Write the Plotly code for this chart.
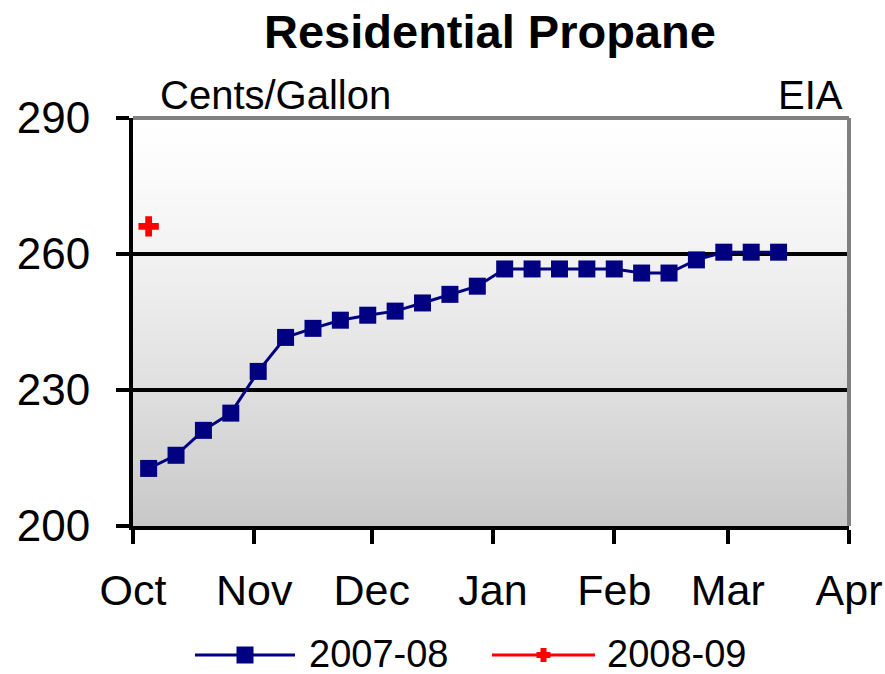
import plotly.graph_objects as go

# ---- data ----
dates_0708 = ["2007-10-05", "2007-10-12", "2007-10-19", "2007-10-26",
              "2007-11-02", "2007-11-09", "2007-11-16", "2007-11-23", "2007-11-30",
              "2007-12-07", "2007-12-14", "2007-12-21", "2007-12-28",
              "2008-01-04", "2008-01-11", "2008-01-18", "2008-01-25",
              "2008-02-01", "2008-02-08", "2008-02-15", "2008-02-22", "2008-02-29",
              "2008-03-07", "2008-03-14"]
values_0708 = [212.7, 215.6, 221.1, 224.9, 234.1, 241.6, 243.6, 245.4, 246.5,
               247.4, 249.2, 251.1, 252.9, 256.7, 256.7, 256.7, 256.7, 256.7,
               255.8, 255.8, 258.7, 260.4, 260.4, 260.4]
dates_0809 = ["2007-10-05"]
values_0809 = [266.1]

series_names = ["2007-08", "2008-09"]
series_colors = ["#000080", "#ff0000"]

month_ticks = ["2007-10-01", "2007-11-01", "2007-12-01", "2008-01-01",
               "2008-02-01", "2008-03-01", "2008-04-01"]
month_labels = ["Oct", "Nov", "Dec", "Jan", "Feb", "Mar", "Apr"]
y_ticks = [200, 230, 260, 290]

FONT = "Liberation Sans, Arial, sans-serif"

# page body margin is removed by a post script, so screen px == figure px
W, H = 885, 674
L, T = 133, 118
PW, PH = 716, 408
R, B = W - L - PW, H - T - PH


def px(xs):  # screen x -> paper
    return (xs - L) / PW


def py(ys):  # screen y -> paper
    return (T + PH - ys) / PH


fig = go.Figure()
fig.add_trace(go.Scatter(
    x=dates_0708, y=values_0708, name=series_names[0], mode="lines+markers",
    line=dict(color=series_colors[0], width=3),
    marker=dict(symbol="square", size=17, color=series_colors[0]),
))
fig.add_trace(go.Scatter(
    x=dates_0809, y=values_0809, name=series_names[1], mode="lines+markers",
    line=dict(color=series_colors[1], width=3),
    marker=dict(symbol="cross", size=17, color=series_colors[1]),
))

# gradient background of plot area
shapes = []
n = 80
for i in range(n):
    t = (i + 0.5) / n  # 0 top -> 1 bottom
    v = int(round(255 - 55 * t ** 1.3))
    shapes.append(dict(type="rect", xref="x domain", yref="y domain",
                       x0=0, x1=1, y0=1 - (i + 1) / n - 0.002, y1=1 - i / n,
                       line=dict(width=0), fillcolor=f"rgb({v},{v},{v})",
                       layer="below"))
# gray top and right borders
shapes.append(dict(type="line", xref="x domain", yref="y domain",
                   x0=0, x1=1, y0=1, y1=1, line=dict(color="#808080", width=4)))
shapes.append(dict(type="line", xref="x domain", yref="y domain",
                   x0=1, x1=1, y0=0, y1=1, line=dict(color="#808080", width=4)))

# manual legend (long line samples like the original)
leg_y = 655
annotations = []
for (x0, x1, tx), name, col, sym in zip(
        [(195, 295, 307), (492, 595, 605)], series_names, series_colors,
        ["square", "cross"]):
    shapes.append(dict(type="line", xref="paper", yref="paper",
                       x0=px(x0), x1=px(x1), y0=py(leg_y), y1=py(leg_y),
                       line=dict(color=col, width=3)))
    cx = (x0 + x1) / 2
    if sym == "square":
        shapes.append(dict(type="rect", xref="paper", yref="paper",
                           x0=px(cx - 8.5), x1=px(cx + 8.5),
                           y0=py(leg_y + 8.5), y1=py(leg_y - 8.5),
                           line=dict(width=0), fillcolor=col))
    else:
        shapes.append(dict(type="rect", xref="paper", yref="paper",
                           x0=px(cx - 7), x1=px(cx + 7),
                           y0=py(leg_y + 3), y1=py(leg_y - 3),
                           line=dict(width=0), fillcolor=col))
        shapes.append(dict(type="rect", xref="paper", yref="paper",
                           x0=px(cx - 3), x1=px(cx + 3),
                           y0=py(leg_y + 7), y1=py(leg_y - 7),
                           line=dict(width=0), fillcolor=col))
    annotations.append(dict(text=name, xref="paper", yref="paper",
                            x=px(tx), y=py(leg_y - 1), xanchor="left",
                            yanchor="middle", showarrow=False,
                            font=dict(size=38, family=FONT)))

annotations += [
    dict(text="<b>Residential Propane</b>", xref="paper", yref="paper",
         x=px(490), y=py(31), xanchor="center", yanchor="middle",
         showarrow=False, font=dict(size=47, family=FONT)),
    dict(text="Cents/Gallon", xref="paper", yref="paper", x=px(158),
         y=py(95), xanchor="left", yanchor="middle", showarrow=False,
         font=dict(size=40, family=FONT)),
    dict(text="EIA", xref="paper", yref="paper", x=px(845),
         y=py(95), xanchor="right", yanchor="middle", showarrow=False,
         font=dict(size=40, family=FONT)),
]

fig.update_layout(
    width=W, height=H,
    margin=dict(l=L, r=R, t=T, b=B, autoexpand=False),
    paper_bgcolor="white", plot_bgcolor="rgba(0,0,0,0)",
    font=dict(family=FONT, color="black"),
    shapes=shapes,
    annotations=annotations,
    showlegend=False,
)
fig.update_xaxes(
    type="date", range=["2007-10-01", "2008-04-01"], automargin=False,
    tickmode="array", tickvals=month_ticks, ticktext=month_labels,
    showgrid=False, zeroline=False,
    showline=True, linecolor="black", linewidth=4,
    ticks="outside", ticklen=14, tickwidth=4, tickcolor="black",
    tickfont=dict(size=43, family=FONT), ticklabelstandoff=9,
)
fig.update_yaxes(
    range=[200, 290], tickmode="array", tickvals=y_ticks, automargin=False,
    showgrid=True, gridcolor="black", gridwidth=4, zeroline=False,
    showline=True, linecolor="black", linewidth=4,
    ticks="outside", ticklen=13, tickwidth=4, tickcolor="black",
    tickfont=dict(size=44, family=FONT), ticklabelstandoff=17,
)

fig.write_html(
    "out.html",
    config={"displayModeBar": False},
    post_script="document.body.style.margin='0';document.body.style.overflow='hidden';",
)
